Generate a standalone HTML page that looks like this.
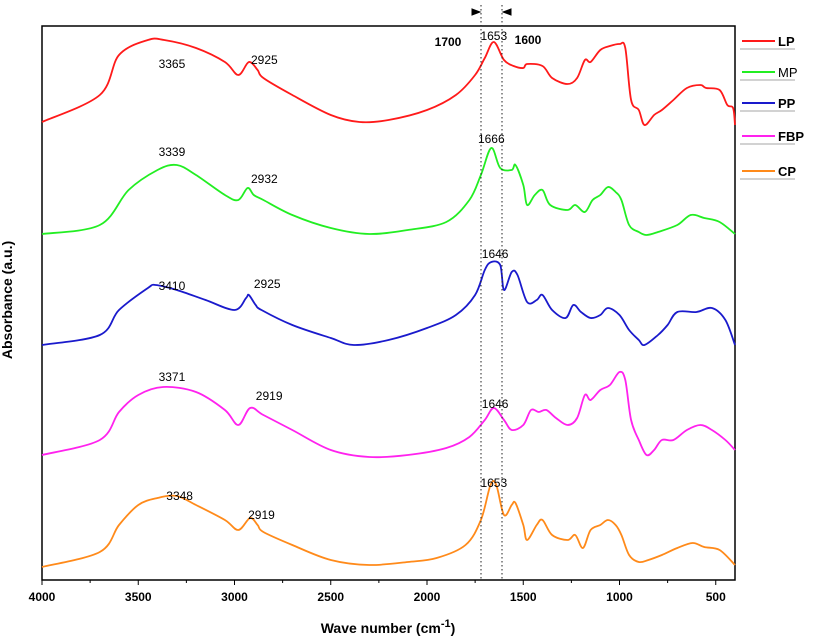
<!DOCTYPE html>
<html><head><meta charset="utf-8"><style>
body{margin:0;background:#fff;}
svg{display:block;font-family:"Liberation Sans",Arial,sans-serif;}
</style></head><body>
<svg id="chart" width="814" height="641" viewBox="0 0 814 641">
<rect x="42" y="26" width="693" height="554" fill="none" stroke="#000" stroke-width="1.5"/>
<g id="ticks"></g>
<g id="series"></g>
<g id="annot"></g>
<line x1="481" y1="5" x2="481" y2="580" stroke="#222" stroke-dasharray="1.5,2.5"/>
<line x1="502" y1="5" x2="502" y2="580" stroke="#222" stroke-dasharray="1.5,2.5"/>
<path d="M472,9 L480,12 L472,15 Z M472,12 H480" stroke="#000" fill="#000"/>
<path d="M511,9 L503,12 L511,15 Z M511,12 H503" stroke="#000" fill="#000"/>
<text x="448" y="46" text-anchor="middle" font-size="12" font-weight="bold">1700</text>
<text x="528" y="44" text-anchor="middle" font-size="12" font-weight="bold">1600</text>
<text x="12" y="300" transform="rotate(-90 12 300)" text-anchor="middle" font-size="14" font-weight="bold">Absorbance (a.u.)</text>
<text x="388" y="633" text-anchor="middle" font-size="14" font-weight="bold">Wave number (cm<tspan dy="-6" font-size="11">-1</tspan><tspan dy="6">)</tspan></text>
<g id="legend"></g>
</svg>
<script>
const lpWn=[4000,3700,3600,3450,3365,3200,3050,2980,2925,2880,2850,2700,2500,2350,2200,2000,1850,1750,1700,1653,1600,1550,1500,1480,1400,1350,1270,1220,1180,1150,1100,1050,1000,970,940,900,870,820,780,720,650,580,550,480,440,410,400];
const lpVals=[458,485,525,540,540,532,518,505,518,510,502,485,465,458,460,470,485,505,522,538,520,514,512,516,514,502,496,502,520,518,530,534,536,532,480,470,455,465,470,480,492,495,492,490,475,472,455];
const mpWn=[4000,3700,3550,3400,3300,3200,3050,2980,2932,2900,2850,2700,2500,2300,2100,1900,1780,1720,1666,1620,1560,1540,1500,1480,1440,1400,1360,1270,1230,1180,1140,1100,1060,1020,990,950,900,860,800,700,630,560,480,400];
const mpVals=[346,355,390,410,415,405,385,380,392,385,380,365,352,346,350,358,380,405,432,412,410,415,395,375,385,390,375,370,375,368,380,385,393,388,380,355,348,345,348,355,365,362,358,346];
const ppWn=[4000,3700,3600,3450,3410,3300,3150,3000,2940,2925,2890,2860,2700,2500,2380,2200,2000,1850,1750,1700,1666,1620,1600,1560,1530,1480,1430,1400,1350,1280,1240,1200,1150,1100,1060,1000,950,900,870,800,750,700,600,520,450,400];
const ppVals=[235,245,270,292,295,290,280,270,282,285,275,270,255,242,235,240,252,265,285,310,318,315,290,308,305,278,280,285,270,262,275,268,262,265,272,265,250,240,235,245,255,268,268,272,260,235];
const fbpWn=[4000,3700,3600,3500,3371,3200,3050,2980,2919,2850,2700,2500,2300,2100,1900,1780,1700,1653,1600,1560,1500,1460,1420,1380,1330,1270,1220,1180,1150,1100,1050,1000,970,940,900,860,820,780,720,650,580,520,450,400];
const fbpVals=[125,140,168,185,193,188,170,155,172,165,150,130,123,125,132,143,160,172,160,150,155,170,168,170,162,155,162,185,180,190,195,208,200,160,140,125,130,140,140,150,155,150,140,130];
const cpWn=[4000,3700,3600,3500,3400,3300,3200,3050,2980,2919,2880,2850,2700,2500,2300,2100,1950,1800,1720,1670,1640,1600,1560,1540,1500,1480,1430,1400,1350,1270,1230,1190,1150,1100,1060,1020,990,950,900,850,780,700,620,560,480,400];
const cpVals=[13,28,55,75,82,84,75,60,50,62,55,48,35,20,15,18,22,35,60,95,95,65,75,77,55,40,55,60,45,40,45,32,50,55,60,55,45,25,18,20,25,32,37,33,30,15];
const xTicks=[4000,3500,3000,2500,2000,1500,1000,500];
const seriesNames=["LP","MP","PP","FBP","CP"];
const seriesColors=["#ff1a1a","#22ee22","#1a1acc","#ff22ee","#ff8a1a"];
const peakLabels=["3365","2925","1653","3339","2932","1666","3410","2925","1646","3371","2919","1646","3348","2919","1653"];
const peakLabelWn=[3325,2845,1653,3325,2845,1666,3325,2830,1646,3325,2820,1646,3285,2860,1653];
const peakLabelVals=[512,516,540,424,397,437,290,292,322,199,180,172,80,61,93];

const NS="http://www.w3.org/2000/svg";
const X=w=>42+(4000-w)*(693/3600);
const Y=v=>580-v;
const tg=document.getElementById('ticks');
xTicks.forEach(t=>{
 const l=document.createElementNS(NS,'line');
 l.setAttribute('x1',X(t));l.setAttribute('x2',X(t));l.setAttribute('y1',580);l.setAttribute('y2',585);l.setAttribute('stroke','#000');
 
 
 tg.appendChild(l);
 if(t-250>=400){
 const m=document.createElementNS(NS,'line');
 m.setAttribute('x1',X(t-250));m.setAttribute('x2',X(t-250));m.setAttribute('y1',580);m.setAttribute('y2',583);m.setAttribute('stroke','#000');
 
 
 tg.appendChild(m);
 }
 const tx=document.createElementNS(NS,'text');
 tx.setAttribute('x',X(t));tx.setAttribute('y',601);tx.setAttribute('text-anchor','middle');tx.setAttribute('font-size','12');tx.setAttribute('font-weight','bold');
 tx.textContent=t;
 
 
 tg.appendChild(tx);
});
function smooth(pts){
 let d='M'+pts[0][0].toFixed(1)+','+pts[0][1].toFixed(1);
 for(let i=0;i<pts.length-1;i++){
  const p0=pts[Math.max(0,i-1)],p1=pts[i],p2=pts[i+1],p3=pts[Math.min(pts.length-1,i+2)];
  const c1=[p1[0]+(p2[0]-p0[0])/6,p1[1]+(p2[1]-p0[1])/6];
  const c2=[p2[0]-(p3[0]-p1[0])/6,p2[1]-(p3[1]-p1[1])/6];
  d+=' C'+c1[0].toFixed(1)+','+c1[1].toFixed(1)+' '+c2[0].toFixed(1)+','+c2[1].toFixed(1)+' '+p2[0].toFixed(1)+','+p2[1].toFixed(1);
 }
 return d;
}
const sg=document.getElementById('series');
const wns=[lpWn,mpWn,ppWn,fbpWn,cpWn],vals=[lpVals,mpVals,ppVals,fbpVals,cpVals];
wns.forEach((wn,i)=>{
 const p=document.createElementNS(NS,'path');
 p.setAttribute('d',smooth(wn.map((w,j)=>[X(w),Y(vals[i][j])])));
 p.setAttribute('fill','none');p.setAttribute('stroke',seriesColors[i]);p.setAttribute('stroke-width','1.8');p.setAttribute('stroke-linejoin','round');
 
 
 sg.appendChild(p);
});
const ag=document.getElementById('annot');
peakLabels.forEach((s,i)=>{
 const t=document.createElementNS(NS,'text');
 t.setAttribute('x',X(peakLabelWn[i]));t.setAttribute('y',Y(peakLabelVals[i]));t.setAttribute('text-anchor','middle');t.setAttribute('font-size','12');
 t.textContent=s;
 
 
 ag.appendChild(t);
});
const lg=document.getElementById('legend');
const legY=[41,72,103,136,171];
seriesNames.forEach((n,i)=>{
 const y=legY[i];
 const g=document.createElementNS(NS,'g');
 
 
 g.innerHTML='<line x1="740" y1="'+(y+8)+'" x2="795" y2="'+(y+8)+'" stroke="#888" stroke-width="0.8"/>'+
 '<line x1="742" y1="'+y+'" x2="775" y2="'+y+'" stroke="'+seriesColors[i]+'" stroke-width="2"/>'+
 '<text x="778" y="'+(y+5)+'" font-size="13" font-weight="'+(n==="MP"?"normal":"bold")+'">'+n+'</text>';
 lg.appendChild(g);
});
</script>
</body></html>
